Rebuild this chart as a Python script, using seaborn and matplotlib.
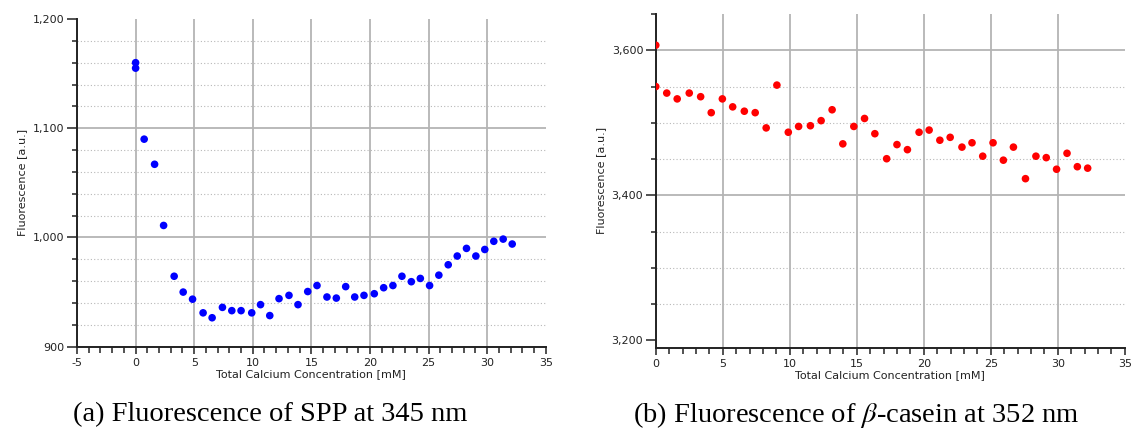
import matplotlib
matplotlib.use("Agg")
import matplotlib.pyplot as plt
import matplotlib.ticker as mticker
import numpy as np
import pandas as pd
import seaborn as sns

# ---------------- data ----------------
spp_ca = [0.0, 0.0, 0.73, 1.62, 2.39, 3.29, 4.06, 4.86, 5.76, 6.53, 7.41, 8.21, 9.0,
          9.91, 10.66, 11.45, 12.24, 13.09, 13.86, 14.69, 15.48, 16.33, 17.13, 17.93,
          18.7, 19.49, 20.37, 21.17, 21.96, 22.73, 23.53, 24.3, 25.09, 25.88, 26.68,
          27.45, 28.24, 29.04, 29.8, 30.57, 31.37, 32.14]
spp_fl = [1160, 1155, 1090, 1067, 1011, 964.5, 950, 943.5, 931, 926.5, 936, 933, 933,
          931, 938.5, 928.5, 944, 947, 938.5, 950.5, 956, 945.5, 944.5, 955, 945.5,
          947, 948.5, 954, 956, 964.5, 959.5, 962.5, 956, 965.5, 975, 983, 990, 983,
          989, 996.5, 998.5, 994]

cas_ca = [0.0, 0.0, 0.82, 1.6, 2.5, 3.35, 4.14, 4.97, 5.74, 6.61, 7.42, 8.24, 9.04,
          9.89, 10.66, 11.54, 12.34, 13.16, 13.96, 14.78, 15.58, 16.35, 17.23, 18.0,
          18.78, 19.65, 20.4, 21.2, 21.97, 22.85, 23.6, 24.4, 25.17, 25.94, 26.69,
          27.59, 28.37, 29.14, 29.91, 30.69, 31.46, 32.23]
cas_fl = [3607, 3550, 3541, 3533, 3541, 3536, 3514, 3533, 3522, 3516, 3514, 3493, 3552,
          3487, 3495, 3496, 3503, 3518, 3471, 3495, 3506, 3485, 3450.5, 3470, 3463,
          3487, 3490, 3476, 3480, 3466.5, 3472.5, 3454, 3472.5, 3448.5, 3466.5, 3423,
          3454, 3452, 3436, 3458, 3439.5, 3437.5]

x_label = "Total Calcium Concentration [mM]"
y_label = "Fluorescence [a.u.]"
captions = ["(a) Fluorescence of SPP at 345 nm",
            r"(b) Fluorescence of $\beta$-casein at 352 nm"]

# ---------------- style ----------------
sns.set_style("white")
plt.rcParams["font.family"] = ["DejaVu Sans"]
plt.rcParams["mathtext.fontset"] = "stix"
plt.rcParams["axes.unicode_minus"] = False

fig = plt.figure(figsize=(11.31, 4.45), dpi=100)
axL = fig.add_axes([0.0681, 0.2209, 0.4144, 0.7364])
axR = fig.add_axes([0.5798, 0.2187, 0.4147, 0.7498])

df_a = pd.DataFrame({"x": spp_ca, "y": spp_fl})
df_b = pd.DataFrame({"x": cas_ca, "y": cas_fl})

sns.scatterplot(data=df_a, x="x", y="y", ax=axL, color="#0000ff", s=30,
                edgecolor="none", zorder=5)
sns.scatterplot(data=df_b, x="x", y="y", ax=axR, color="#ff0000", s=30,
                edgecolor="none", zorder=5)

fmt = mticker.FuncFormatter(lambda v, p: f"{v:,.0f}")

def style(ax, xlim, ylim, ymaj, ymin, hide_y=()):
    ax.set_xlim(*xlim)
    ax.set_ylim(*ylim)
    ax.xaxis.set_major_locator(mticker.MultipleLocator(5))
    ax.xaxis.set_minor_locator(mticker.MultipleLocator(1))
    ax.yaxis.set_major_locator(mticker.MultipleLocator(ymaj))
    ax.yaxis.set_minor_locator(mticker.MultipleLocator(ymin))
    ax.yaxis.set_major_formatter(fmt)
    for s in ["top", "right"]:
        ax.spines[s].set_visible(False)
    for s in ["left", "bottom"]:
        ax.spines[s].set_color("#222222")
        ax.spines[s].set_linewidth(1.4)
    ax.grid(True, which="major", axis="both", color="#b4b4b4", lw=1.3, ls="-")
    ax.grid(True, which="minor", axis="y", color="#b8b8b8", lw=0.8, ls=(0, (1, 2)))
    ax.tick_params(axis="x", which="major", direction="out", length=5, width=1.1,
                   color="#222222", labelsize=8, labelcolor="#222222", pad=3,
                   bottom=True)
    ax.tick_params(axis="x", which="minor", direction="out", length=4.5, width=1.1,
                   color="#222222", bottom=True)
    ax.tick_params(axis="y", which="major", direction="out", length=7, width=1.1,
                   color="#222222", labelsize=8, labelcolor="#222222", pad=2,
                   left=True)
    ax.tick_params(axis="y", which="minor", direction="out", length=3.8, width=1.1,
                   color="#222222", left=True)
    ax.set_xlabel(x_label, fontsize=8, color="#222222", labelpad=1)
    ax.set_ylabel(y_label, fontsize=8, color="#222222", labelpad=4)
    ax.set_axisbelow(True)
    fig.canvas.draw()
    for t in ax.yaxis.get_major_ticks() + ax.yaxis.get_minor_ticks():
        if any(abs(t.get_loc() - h) < 1e-6 for h in hide_y):
            t.gridline.set_visible(False)
    for t in ax.xaxis.get_major_ticks():
        if abs(t.get_loc() - xlim[1]) < 1e-6:
            t.gridline.set_visible(False)

style(axL, (-5, 35), (900, 1200), 100, 20, hide_y=(1200,))
style(axR, (0, 35), (3190, 3650), 200, 50, hide_y=(3200, 3650))

fig.text(0.2388, 0.068, captions[0], ha="center", va="center",
         fontsize=20.5, family="Liberation Serif", color="black")
fig.text(0.757, 0.068, captions[1], ha="center", va="center",
         fontsize=20.5, family="Liberation Serif", color="black")

fig.savefig("out.png", dpi=100)
